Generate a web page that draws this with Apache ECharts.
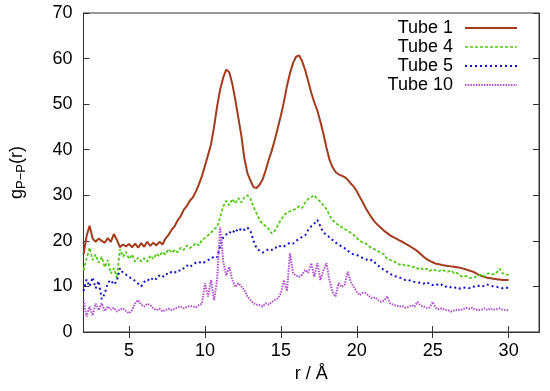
<!DOCTYPE html>
<html>
<head>
<meta charset="utf-8">
<script src="https://cdn.jsdelivr.net/npm/echarts@6/dist/echarts.min.js"></script>
<style>
html,body{margin:0;padding:0;background:#fff;}
#c{width:550px;height:391px;}
</style>
</head>
<body>
<div id="c"></div>
<script>
// r values (Å)
const r = [
  2.0,2.2,2.4,2.6,2.8,3.0,3.2,3.4,3.6,3.8,
  4.0,4.2,4.4,4.6,4.8,5.0,5.2,5.4,5.6,5.8,
  6.0,6.2,6.4,6.6,6.8,7.0,7.2,7.4,7.6,7.8,
  8.0,8.2,8.4,8.6,8.8,9.0,9.2,9.4,9.6,9.8,
  10.0,10.2,10.4,10.6,10.8,11.0,11.2,11.4,11.6,11.8,
  12.0,12.2,12.4,12.6,12.8,13.0,13.2,13.4,13.6,13.8,
  14.0,14.2,14.4,14.6,14.8,15.0,15.2,15.4,15.6,15.8,
  16.0,16.2,16.4,16.6,16.8,17.0,17.2,17.4,17.6,17.8,
  18.0,18.2,18.4,18.6,18.8,19.0,19.2,19.4,19.6,19.8,
  20.0,20.2,20.4,20.6,20.8,21.0,21.2,21.4,21.6,21.8,
  22.0,22.2,22.4,22.6,22.8,23.0,23.2,23.4,23.6,23.8,
  24.0,24.2,24.4,24.6,24.8,25.0,25.2,25.4,25.6,25.8,
  26.0,26.2,26.4,26.6,26.8,27.0,27.2,27.4,27.6,27.8,
  28.0,28.2,28.4,28.6,28.8,29.0,29.2,29.4,29.6,29.8,
  30.0
];
const tube1 = [
  17,21,23.3,20.5,19.8,20.5,20,19.6,20.6,19.8,
  21.5,20.2,18.6,19.2,18.8,19.3,18.6,19.4,18.5,19.5,
  18.7,19.8,18.9,19.6,19.0,19.8,19.2,20.5,21.3,22.4,
  23.2,24.5,25.4,26.8,27.6,28.8,29.5,30.8,32.4,34.2,
  36.5,38.8,41.2,45,49.5,53.2,55.8,57.6,57,54.5,
  50.9,47,43,38,34.8,33.2,31.8,31.6,32.3,33.5,
  35.5,37.8,39.8,42.2,44.8,47.5,50.5,54,56.8,59,
  60.4,60.7,59.4,57.5,55,52.5,50.4,48.6,46.2,43.5,
  40.5,37.8,36.2,35.1,34.6,34.3,34.0,33.4,32.6,31.9,
  30.9,29.6,28.4,27.1,26.0,25.0,24.1,23.4,22.8,22.2,
  21.7,21.2,20.8,20.5,20.1,19.8,19.4,19.0,18.6,18.2,
  17.7,17.1,16.5,16.0,15.6,15.3,15.0,14.9,14.7,14.6,
  14.5,14.4,14.3,14.2,14.1,13.9,13.7,13.5,13.3,13.0,
  12.6,12.3,12.1,11.9,11.8,11.7,11.6,11.5,11.4,11.4,
  11.4
];
const tube4 = [
  13.5,16,18.5,15.8,17.0,15.2,16.5,14.2,15.8,12.8,
  14.0,11.8,18.2,16.5,17.6,16.0,17.0,15.4,16.3,15.5,
  16.2,15.4,16.8,16.0,17.2,16.6,17.6,17.0,18.2,17.4,
  18.0,17.5,18.5,18.0,19.0,18.4,18.9,19.5,19.0,20.2,
  20.6,21.2,21.8,22.6,23.0,25.2,27.5,28.8,27.8,29.2,
  28.2,29.4,28.4,29.6,30.0,29.2,27.5,26.0,24.5,23.8,
  23.2,22.6,21.6,22.2,23.4,24.6,25.6,26.2,26.5,26.8,
  27.0,27.6,27.2,28.4,29.2,29.6,30.0,29.2,28.6,27.8,
  27.0,25.6,24.5,24.0,23.4,23.0,22.6,22.2,21.8,21.3,
  20.6,20.0,19.6,19.4,18.8,18.4,18.1,17.7,17.4,17.0,
  16.0,15.8,15.6,15.2,14.8,14.9,14.5,14.6,14.2,14.3,
  13.9,14.1,13.6,13.9,13.4,13.8,13.5,13.3,13.7,13.4,
  13.2,13.5,12.9,13.0,12.4,12.1,12.3,11.9,11.8,12.1,
  12.3,12.6,12.2,12.8,12.9,12.6,13.0,13.9,12.9,12.7,
  12.5
];
const tube5 = [
  9.0,11.5,10.0,12.0,9.6,11.2,7.2,8.4,10.8,11.4,
  10.4,11.2,14.0,13.0,12.6,12.0,11.8,11.2,10.6,10.0,
  11.0,11.6,11.2,12.0,11.6,12.4,12.0,12.8,12.6,13.2,
  13.0,13.6,13.4,14.0,14.6,14.2,14.8,15.2,15.4,15.0,
  15.4,15.8,16.0,16.6,16.4,18.8,20.8,21.4,22.0,21.6,
  22.6,22.0,22.8,22.4,22.9,22.2,20.0,18.4,17.8,17.4,
  17.8,18.2,18.0,18.6,18.4,19.0,18.8,19.2,19.6,19.4,
  20.0,20.4,20.9,21.2,22.4,23.2,23.8,24.6,23.2,21.8,
  21.4,20.8,20.2,19.6,19.3,18.7,18.4,17.8,17.4,17.0,
  16.9,16.6,16.2,16.0,15.6,15.8,15.2,14.6,14.0,13.6,
  13.2,12.8,12.3,12.2,11.9,11.8,11.4,11.5,11.1,11.0,
  10.9,10.8,10.6,11.0,10.5,10.3,10.6,10.2,10.4,9.9,
  10.1,9.8,9.6,9.9,9.5,9.7,9.8,9.6,10.0,9.9,
  10.1,10.3,10.0,10.4,10.2,10.0,9.9,9.8,9.6,9.8,
  9.6
];
const tube10 = [
  7.0,3.4,5.6,3.6,6.2,4.8,6.3,4.6,5.6,4.9,
  5.3,4.5,5.0,5.2,4.6,4.1,4.8,6.3,7.0,6.0,
  5.6,6.2,5.9,5.2,4.8,5.1,4.5,4.8,5.1,4.8,
  5.1,5.4,5.6,5.2,5.5,5.7,5.6,5.4,5.9,6.2,
  10.7,7.8,11.4,7.0,11.4,23.1,15.5,12.4,14.3,11.4,
  9.9,10.7,10.0,9.2,7.8,7.0,6.3,6.0,5.9,5.6,
  6.3,6.0,6.6,7.0,7.4,8.5,11.4,9.0,17.3,12.9,
  12.4,12.1,12.6,13.6,13.0,15.1,12.1,15.1,11.4,13.5,
  15.1,11.4,8.8,7.8,10.7,9.9,10.4,13.2,11.0,9.9,
  8.8,8.1,8.6,8.5,7.9,7.4,7.6,7.0,6.6,6.9,
  7.8,6.3,6.0,5.8,5.6,5.7,5.3,5.5,5.9,5.6,
  6.6,5.8,5.6,5.3,5.4,6.6,5.3,5.0,5.2,4.9,
  4.8,4.5,4.7,4.9,4.8,5.0,5.3,5.1,5.3,4.9,
  4.8,4.9,5.2,4.8,5.1,4.9,5.0,5.2,4.9,4.8,
  4.8
];
const xTicks = [5, 10, 15, 20, 25, 30];
const seriesNames = ['Tube 1', 'Tube 4', 'Tube 5', 'Tube 10'];

const pairs = ys => ys.map((v, i) => [r[i], v]);
const FONT = 'Liberation Sans, Arial, Helvetica, sans-serif';
const COLORS = ['#a23c1c', '#4cc80a', '#1414c8', '#b050d0'];
const WIDTHS = [2, 1.7, 2, 2];
const DASHES = ['solid', [3, 2], [2, 3], [1.5, 1.2]];

const chart = echarts.init(document.getElementById('c'), null, {renderer: 'canvas'});
const axisLine = {show: true, lineStyle: {color: '#333', width: 1}};
const tickIn = {show: true, inside: true, length: 6, lineStyle: {color: '#333', width: 1}};

chart.setOption({
  animation: false,
  backgroundColor: '#fff',
  grid: {left: 82, right: 11, top: 13, bottom: 59, show: true, borderColor: '#333', borderWidth: 1},
  legend: {
    orient: 'vertical',
    right: 32, top: 19, padding: 0,
    align: 'right',
    itemWidth: 52, itemHeight: 10, itemGap: 1,
    itemStyle: {opacity: 0},
    textStyle: {fontFamily: FONT, fontSize: 18, color: '#000', lineHeight: 18, padding: [0, 7, 0, 0]},
    data: seriesNames.map((n, i) => ({
      name: n,
      lineStyle: {color: COLORS[i], width: WIDTHS[i], type: DASHES[i], opacity: 1}
    }))
  },
  xAxis: [{
    type: 'value', min: 2, max: 32,
    name: 'r / Å', nameLocation: 'middle', nameGap: 31,
    nameTextStyle: {fontFamily: FONT, fontSize: 18, color: '#000'},
    axisLine: axisLine,
    axisTick: Object.assign({}, tickIn, {customValues: xTicks}),
    axisLabel: {customValues: xTicks, fontFamily: FONT, fontSize: 18, color: '#000', margin: 10},
    splitLine: {show: false}
  }, {
    type: 'value', min: 2, max: 32, position: 'top',
    axisLine: axisLine,
    axisTick: Object.assign({}, tickIn, {customValues: xTicks}),
    axisLabel: {show: false},
    splitLine: {show: false}
  }],
  yAxis: [{
    type: 'value', min: 0, max: 70, interval: 10,
    name: '{g|g}{s|P−P}{g|(r)}', nameLocation: 'middle', nameGap: 56, nameRotate: 90,
    nameTextStyle: {
      fontFamily: FONT, color: '#000',
      rich: {
        g: {fontFamily: FONT, fontSize: 18, color: '#000'},
        s: {fontFamily: FONT, fontSize: 13, color: '#000', verticalAlign: 'bottom', padding: [8, 0, 0, 0]}
      }
    },
    axisLine: axisLine,
    axisTick: tickIn,
    axisLabel: {fontFamily: FONT, fontSize: 18, color: '#000', margin: 11},
    splitLine: {show: false}
  }, {
    type: 'value', min: 0, max: 70, interval: 10, position: 'right',
    axisLine: axisLine,
    axisTick: tickIn,
    axisLabel: {show: false},
    splitLine: {show: false}
  }],
  series: [tube1, tube4, tube5, tube10].map((ys, i) => ({
    name: seriesNames[i], type: 'line', data: pairs(ys), symbol: 'none',
    itemStyle: {color: COLORS[i]},
    lineStyle: {color: COLORS[i], width: WIDTHS[i], type: DASHES[i]}
  }))
});
</script>
</body>
</html>
